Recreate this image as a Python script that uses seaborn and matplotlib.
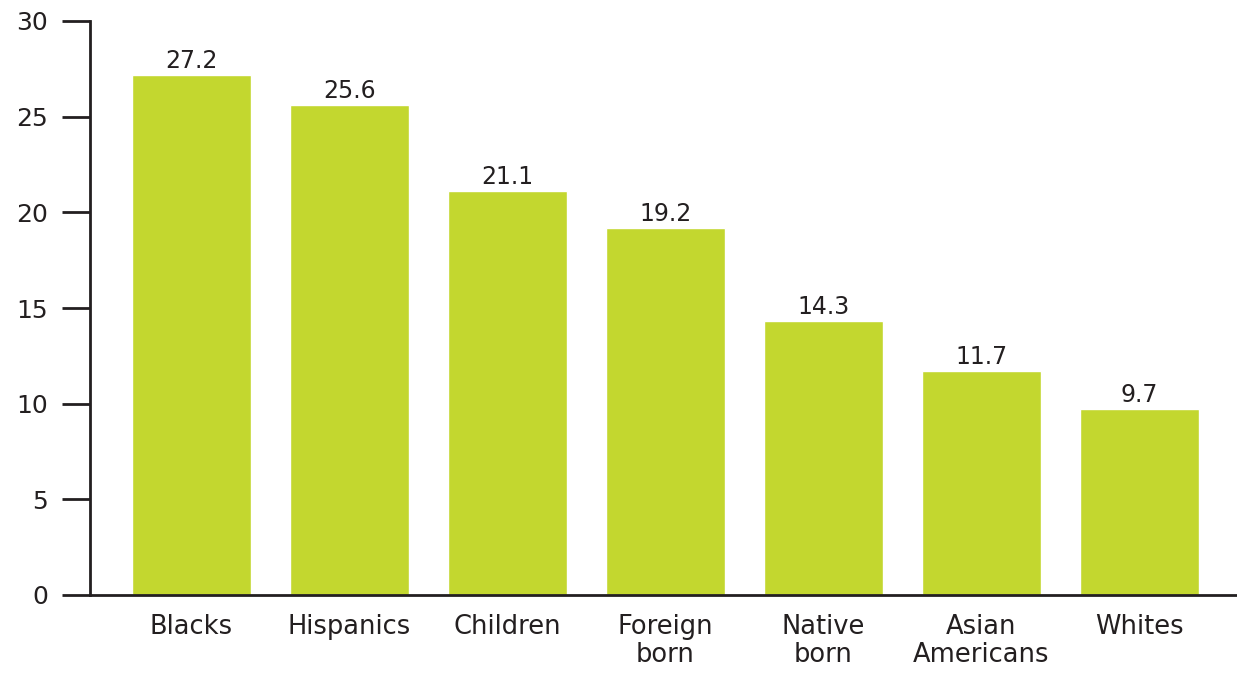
import matplotlib
matplotlib.use("Agg")
import matplotlib.pyplot as plt
import seaborn as sns
import pandas as pd

categories = ["Blacks", "Hispanics", "Children", "Foreign\nborn", "Native\nborn", "Asian\nAmericans", "Whites"]
values = [27.2, 25.6, 21.1, 19.2, 14.3, 11.7, 9.7]
yticks = [0, 5, 10, 15, 20, 25, 30]

sns.set_theme(style="white")
plt.rcParams["font.family"] = ["DejaVu Sans"]

df = pd.DataFrame({"group": categories, "value": values})

fig = plt.figure(figsize=(12.37, 6.73), dpi=100)
ax = fig.add_axes([90 / 1237, 78 / 673, 1 - 90 / 1237, (595 - 21) / 673])

sns.barplot(data=df, x="group", y="value", color="#c3d72f", saturation=1,
            width=0.753, ax=ax)

text_color = "#231f20"
for i, v in enumerate(values):
    ax.text(i, v + 0.1, f"{v:.1f}", ha="center", va="bottom",
            fontsize=17, color=text_color)

ax.set_ylim(0, 30)
ax.set_xlim(-0.642, 6.62)
ax.set_yticks(yticks)
ax.set_yticklabels([str(t) for t in yticks])
ax.set_xlabel("")
ax.set_ylabel("")

for side in ["top", "right"]:
    ax.spines[side].set_visible(False)
for side in ["left", "bottom"]:
    ax.spines[side].set_color("#231f20")
    ax.spines[side].set_linewidth(2.0)

ax.tick_params(axis="y", direction="out", length=20, width=2.0, color="#231f20",
               labelsize=18, labelcolor=text_color, pad=10, left=True)
ax.tick_params(axis="x", length=0, labelsize=18.5, labelcolor=text_color, pad=13.5)
for lbl in ax.get_xticklabels():
    lbl.set_linespacing(1.12)
    lbl.set_va("top")

fig.savefig("out.png", dpi=100)
